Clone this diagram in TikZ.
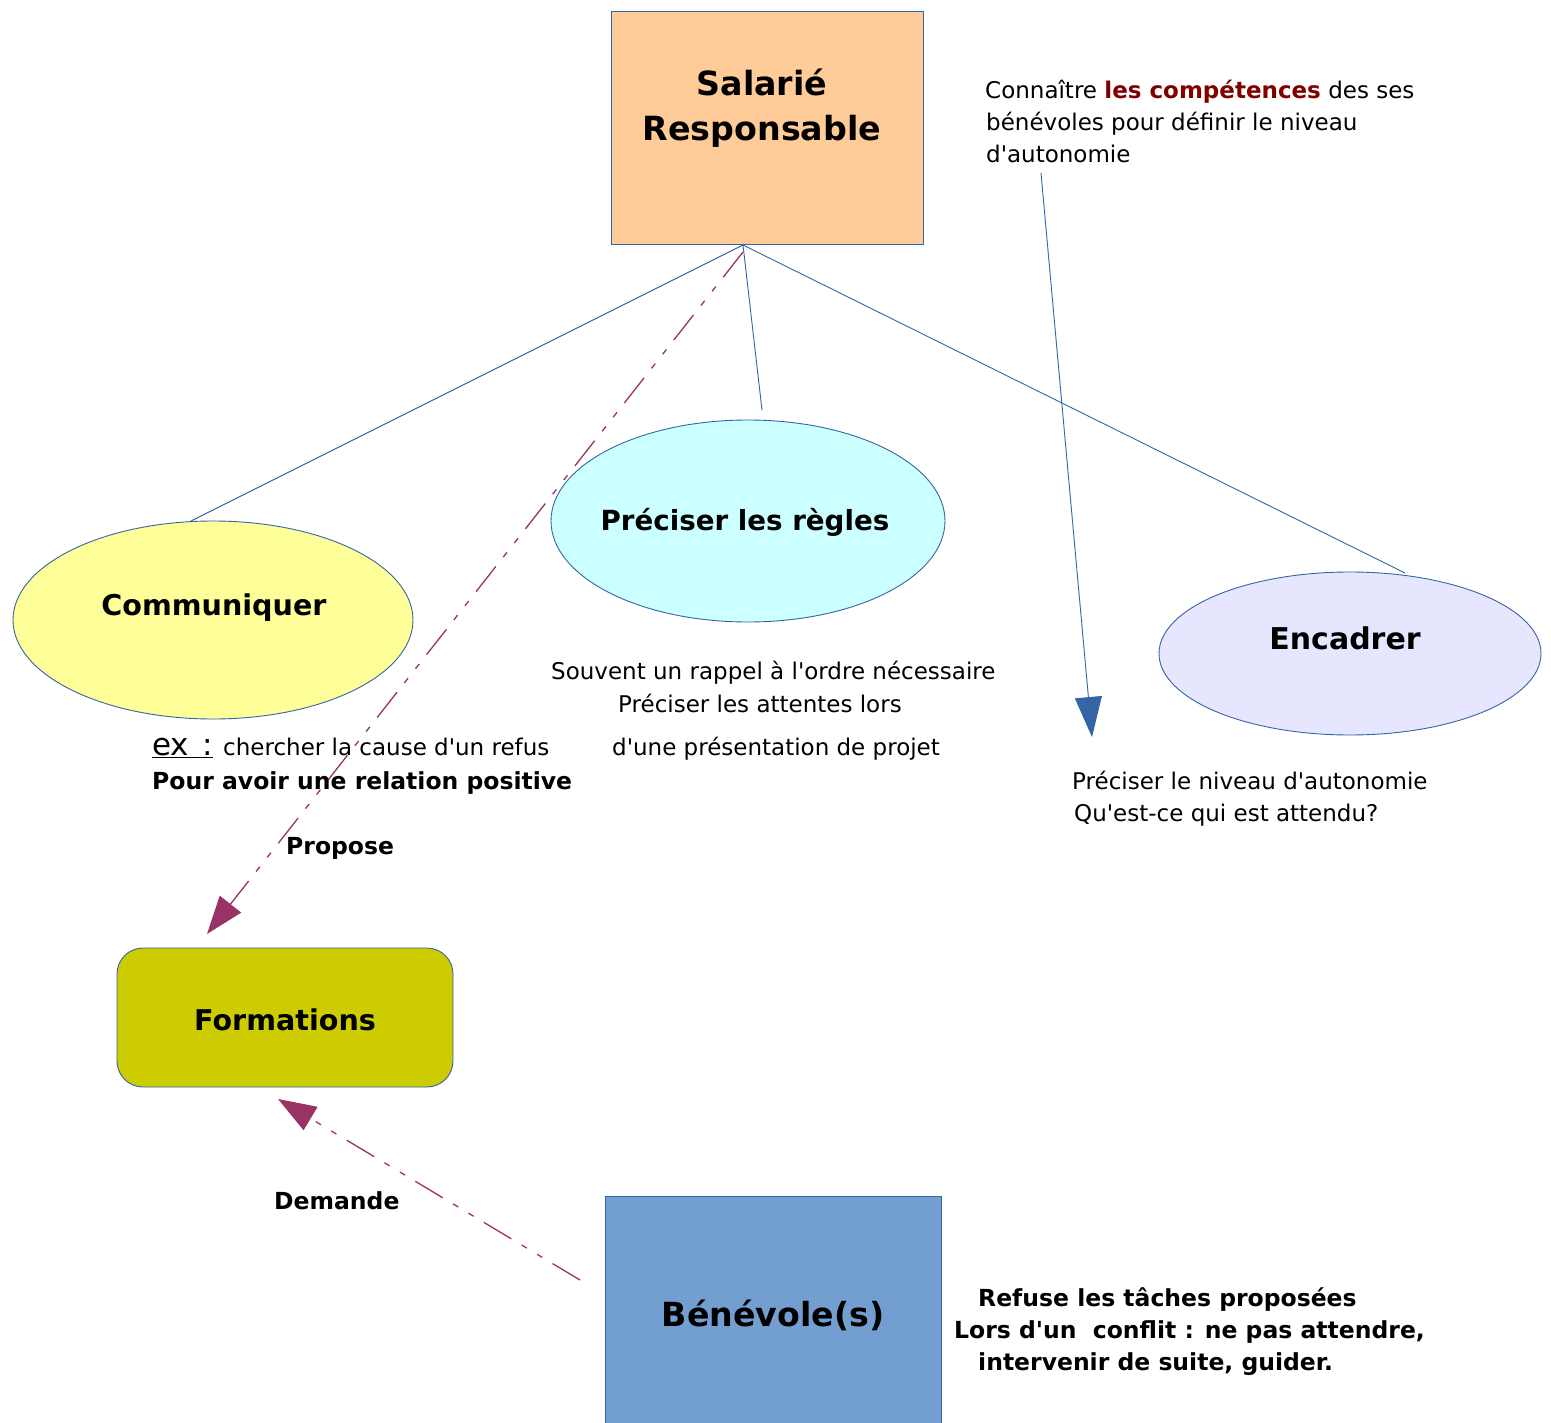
\documentclass[tikz,border=0pt]{standalone}
\usepackage{fontspec}
\newfontfamily\dvs{DejaVu Sans}
\usetikzlibrary{arrows.meta,shapes.geometric}
\definecolor{edgeblue}{HTML}{3465A4}
\definecolor{magenta}{HTML}{993366}
\definecolor{peach}{HTML}{FFCC99}
\definecolor{cyanfill}{HTML}{CCFFFF}
\definecolor{yellowfill}{HTML}{FFFF99}
\definecolor{lavender}{HTML}{E6E6FF}
\definecolor{olive}{HTML}{CCCC00}
\definecolor{bluefill}{HTML}{729FCF}
\definecolor{darkred}{HTML}{800000}
\tikzset{
  shapebox/.style={draw=edgeblue, line width=0.9pt, inner sep=0pt},
  oval/.style={shapebox, ellipse},
  link/.style={draw=edgeblue, line width=0.9pt},
  dashlink/.style={draw=magenta, line width=1.3pt,
    dash pattern=on 32pt off 12pt on 6pt off 12pt on 6pt off 12pt,
    -{Triangle[length=38pt,width=27pt,fill=magenta]}},
  bluearrow/.style={draw=edgeblue, line width=0.9pt,
    -{Triangle[length=40pt,width=27pt,fill=edgeblue]}},
  body/.style={inner sep=0pt, font=\dvs\fontsize{23}{32}\selectfont, anchor=base west},
  boldbody/.style={body, font=\dvs\fontsize{23.5}{32}\selectfont\bfseries},
  title/.style={inner sep=0pt, font=\dvs\bfseries}
}
\begin{document}
\begin{tikzpicture}[x=1pt,y=-1pt]
\useasboundingbox[fill=white] (0,0) rectangle (1551,1423);

% main shapes
\node[shapebox, fill=peach, minimum width=312pt, minimum height=233pt] (sal) at (767,127.5) {};
\node[title, align=center, font=\dvs\fontsize{33.3}{45}\selectfont\bfseries] (saltxt) at (762,108) {Salarié\\Responsable};

\node[oval, fill=cyanfill, minimum width=394pt, minimum height=202pt] (prec) at (748,521) {};
\node[title, font=\dvs\fontsize{27.7}{32}\selectfont\bfseries] (prectxt) at (745,522) {Préciser les règles};

\node[oval, fill=yellowfill, minimum width=400pt, minimum height=198pt] (com) at (213,620) {};
\node[title, font=\dvs\fontsize{28.6}{32}\selectfont\bfseries] (comtxt) at (214,608) {Communiquer};

\node[oval, fill=lavender, minimum width=382pt, minimum height=163pt] (enc) at (1350,653.5) {};
\node[title, font=\dvs\fontsize{30}{34}\selectfont\bfseries] (enctxt) at (1345,638) {Encadrer};

\node[shapebox, fill=olive, rounded corners=26pt, minimum width=336pt, minimum height=139pt] (form) at (285,1017.5) {};
\node[title, font=\dvs\fontsize{28.6}{32}\selectfont\bfseries] (formtxt) at (285,1020) {Formations};

\node[shapebox, fill=bluefill, minimum width=336pt, minimum height=240pt] (benev) at (773,1316) {};
\node[title, font=\dvs\fontsize{33.2}{40}\selectfont\bfseries] (benevtxt) at (773,1315) {Bénévole(s)};

% connection points
\coordinate (salb) at (743,245);
\coordinate (comtop) at (191,521);
\coordinate (prectop) at (762,410);
\coordinate (enctop) at (1405,573);
\coordinate (knowend) at (1041,173);
\coordinate (autotip) at (1092,737);
\coordinate (propstart) at (743,252);
\coordinate (proptip) at (207,934);
\coordinate (demstart) at (580,1280);
\coordinate (demtip) at (278,1099);

% connectors
\draw[link] (salb) -- (comtop);
\draw[link] (salb) -- (prectop);
\draw[link] (salb) -- (enctop);
\draw[bluearrow] (knowend) -- (autotip);
\draw[dashlink] (propstart) -- (proptip);
\draw[dashlink] (demstart) -- (demtip);

% texts
\node[body] (k1) at (985,99) {Connaître \textcolor{darkred}{\bfseries les compétences} des ses};
\node[body] (k2) at (986,131) {bénévoles pour définir le niveau};
\node[body] (k3) at (986,163) {d'autonomie};

\node[body] (r1) at (551,679) {Souvent un rappel à l'ordre nécessaire};
\node[body] (r2) at (618,712) {Préciser les attentes lors};
\node[body] (r3) at (612,755) {d'une présentation de projet};

\node[body, font=\dvs\fontsize{31}{34}\selectfont] (ex) at (152,755) {\underline{ex\hspace{4pt} :}};
\node[body] (ex2) at (223,755) {chercher la cause d'un refus};
\node[boldbody] (pos) at (152,789) {Pour avoir une relation positive};

\node[boldbody] (propose) at (286,854) {Propose};
\node[boldbody] (demande) at (274,1209) {Demande};

\node[body] (n1) at (1072,789) {Préciser le niveau d'autonomie};
\node[body] (n2) at (1074,821) {Qu'est-ce qui est attendu?};

\node[boldbody] (b1) at (978,1306) {Refuse les tâches proposées};
\node[boldbody] (b2) at (954,1338) {Lors d'un\ \ conflit : ne pas attendre,};
\node[boldbody] (b3) at (978,1370) {intervenir de suite, guider.};
\end{tikzpicture}
\end{document}
